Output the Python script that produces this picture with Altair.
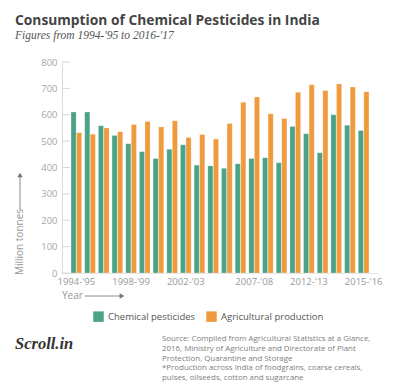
import json
import altair as alt
import pandas as pd

years = ["1994-'95", "1995-'96", "1996-'97", "1997-'98", "1998-'99", "1999-'00",
         "2000-'01", "2001-'02", "2002-'03", "2003-'04", "2004-'05", "2005-'06",
         "2006-'07", "2007-'08", "2008-'09", "2009-'10", "2010-'11", "2011-'12",
         "2012-'13", "2013-'14", "2014-'15", "2015-'16"]
pesticides = [610, 610, 558, 521, 490, 460, 434, 469, 486, 409, 406, 397,
              414, 434, 437, 418, 555, 528, 456, 600, 560, 540]
agri = [532, 526, 550, 536, 563, 574, 554, 577, 514, 525, 508, 567,
        647, 667, 604, 586, 685, 714, 692, 717, 705, 687]
# categories under which the reference prints its six tick labels, and the texts
tick_at = ["1994-'95", "1998-'99", "2002-'03", "2007-'08", "2011-'12", "2015-'16"]
tick_text = ["1994-'95", "1998-'99", "2002-'03", "2007-'08", "2012-'13", "2015-'16"]
y_ticks = [0, 100, 200, 300, 400, 500, 600, 700, 800]
series = ["Chemical pesticides", "Agricultural production"]
colors = ["#4aa386", "#ef9a3d"]
source_lines = [
    "Source: Compiled from Agricultural Statistics at a Glance,",
    "2016, Ministry of Agriculture and Directorate of Plant",
    "Protection, Quarantine and Storage",
    "*Production across India of foodgrains, coarse cereals,",
    "pulses, oilseeds, cotton and sugarcane",
]

rows = []
for y, p, a in zip(years, pesticides, agri):
    rows.append({"year": y, "series": series[0], "value": p})
    rows.append({"year": y, "series": series[1], "value": a})
df = pd.DataFrame(rows)

W, H = 316, 211
FONT = "Open Sans"

label_map = json.dumps(dict(zip(tick_at, tick_text)))
label_expr = "isValid(" + label_map + "[datum.value]) ? " + label_map + "[datum.value] : ''"

y_axis = alt.Axis(title=None, values=y_ticks, ticks=False, grid=False,
                  labelOverlap=False, labelBound=False, labelFlush=False,
                  labelFont=FONT, labelFontSize=9.5, labelColor="#a6a6a6",
                  labelPadding=5, domainColor="#dddddd")

bars = alt.Chart(df).mark_bar(stroke="#ffffff", strokeWidth=0.4, strokeOpacity=0.6).encode(
    x=alt.X("year:N", sort=years,
            scale=alt.Scale(paddingInner=0.22, paddingOuter=0.66),
            axis=alt.Axis(title=None, labelExpr=label_expr, labelAngle=0, ticks=False,
                          labelFont=FONT, labelFontSize=9.5, labelColor="#999999",
                          labelPadding=3, domainColor="#e6e6e6", labelOverlap=False)),
    xOffset=alt.XOffset("series:N", sort=series, scale=alt.Scale(paddingInner=0.08)),
    y=alt.Y("value:Q", scale=alt.Scale(domain=[0, 800]), axis=y_axis),
    color=alt.Color("series:N", sort=series,
                    scale=alt.Scale(domain=series, range=colors),
                    legend=alt.Legend(title=None, orient="none", legendX=31, legendY=249,
                                      direction="horizontal", symbolType="square",
                                      symbolSize=110, symbolStrokeWidth=0,
                                      labelFont=FONT, labelFontSize=9.5, labelColor="#555555",
                                      columnPadding=10, labelOffset=4)),
)

tick_df = pd.DataFrame({"t": y_ticks})
ticks = alt.Chart(tick_df).mark_rule(color="#d6d6d6", strokeWidth=1).encode(
    y=alt.Y("t:Q", axis=y_axis), x=alt.value(0), x2=alt.value(8)
)

def txt(text, x, y, size, color="#555555", font=FONT, weight="normal", style="normal",
        align="left", angle=0):
    return alt.Chart(pd.DataFrame({"t": [text]})).mark_text(
        align=align, baseline="middle", fontSize=size, font=font, fontWeight=weight,
        fontStyle=style, color=color, angle=angle
    ).encode(text="t:N", x=alt.value(x), y=alt.value(y))

layers = [bars, ticks]
layers.append(txt("Consumption of Chemical Pesticides in India", -47, -41, 13.8,
                  color="#444444", weight="bold"))
layers.append(txt("Figures from 1994-'95 to 2016-'17", -47, -26.5, 11.5,
                  color="#555555", font="Liberation Serif", style="italic"))
layers.append(txt("Million tonnes", -42, 180, 10, color="#999999", align="center", angle=270))
layers.append(txt("Year", 0, 234, 10, color="#999999"))
for i, line in enumerate(source_lines):
    layers.append(txt(line, 100, 277 + i * 9.8, 7.9, color="#808080"))
layers.append(txt("Scroll.in", -47, 282, 16.5, color="#333333", font="Liberation Serif",
                  weight="bold", style="italic"))

# arrows
layers.append(alt.Chart(pd.DataFrame({"a": [0]})).mark_rule(color="#888888", strokeWidth=1).encode(
    x=alt.value(-42), y=alt.value(148), y2=alt.value(114)))
layers.append(alt.Chart(pd.DataFrame({"a": [0]})).mark_point(
    shape="triangle-up", filled=True, color="#777777", size=30, opacity=1).encode(
    x=alt.value(-42), y=alt.value(113)))
layers.append(alt.Chart(pd.DataFrame({"a": [0]})).mark_rule(color="#888888", strokeWidth=1).encode(
    x=alt.value(23), x2=alt.value(58), y=alt.value(234)))
layers.append(alt.Chart(pd.DataFrame({"a": [0]})).mark_point(
    shape="triangle-right", filled=True, color="#777777", size=30, opacity=1).encode(
    x=alt.value(60), y=alt.value(234)))

chart = alt.layer(*layers).properties(
    width=W, height=H,
    autosize=alt.AutoSizeParams(type="none"),
    padding={"left": 54, "top": 54, "right": 9, "bottom": 116},
    background="#ffffff",
).configure_view(stroke=None)

chart.save("out.html", embed_options={"renderer": "svg", "actions": False})
